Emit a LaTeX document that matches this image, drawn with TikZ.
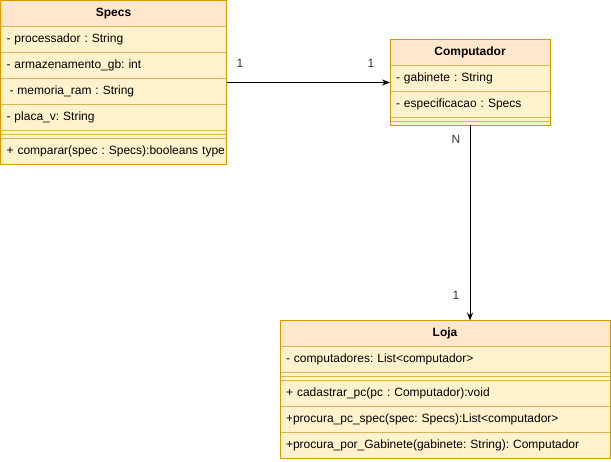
\documentclass[tikz,border=0pt]{standalone}
\usepackage{fontspec}
\setmainfont{Liberation Sans}
\usetikzlibrary{positioning, fit, arrows.meta}
\definecolor{headfill}{HTML}{FFE6CC}
\definecolor{headline}{HTML}{D79B00}
\definecolor{rowfill}{HTML}{FFF2CC}
\definecolor{rowline}{HTML}{D6B656}
\definecolor{labelgray}{HTML}{333333}
\tikzset{
  head/.style={draw=headline, fill=headfill, line width=0.8pt, outer sep=0pt, minimum width=#1, minimum height=26pt,
    inner sep=0pt, font=\fontsize{12}{14}\selectfont\bfseries},
  row/.style={draw=rowline, fill=rowfill, line width=0.8pt, outer sep=0pt, text width=#1-12pt, inner xsep=6pt, inner ysep=0pt,
    minimum height=26pt, align=left, font=\fontsize{12}{14}\selectfont\frenchspacing,
    execute at begin node={\hbox to 0pt\bgroup}, execute at end node={\hss\egroup}},
  sep/.style={draw=rowline, fill=rowfill, line width=0.8pt, outer sep=0pt, minimum width=#1, minimum height=8pt, inner sep=0pt},
  frame/.style={draw=headline, line width=0.8pt, outer sep=0pt, inner sep=0pt},
  mult/.style={text=labelgray, font=\fontsize{12}{14}\selectfont, inner sep=0pt},
  assoc/.style={line width=0.9pt, -{Stealth[length=8pt, width=6pt]}},
}
\begin{document}
\begin{tikzpicture}[x=1pt, y=-1pt]
\useasboundingbox (0,0) rectangle (611,462);

\def\wS{226pt} % width of Specs
\def\wC{160pt} % width of Computador
\def\wL{330pt} % width of Loja

% Specs
\node[head=\wS, anchor=north west] (specsHead) at (0.5,0.5) {Specs};
\node[row=\wS, below=0pt of specsHead] (specsA) {- processador : String};
\node[row=\wS, below=0pt of specsA] (specsB) {- armazenamento\_gb: int};
\node[row=\wS, below=0pt of specsB] (specsC) {\hspace{3pt}- memoria\_ram : String};
\node[row=\wS, below=0pt of specsC] (specsD) {- placa\_v: String};
\node[sep=\wS, below=0pt of specsD] (specsSep) {};
\draw[rowline, line width=0.8pt] (specsSep.west) -- (specsSep.east);
\node[row=\wS, below=0pt of specsSep] (specsM) {+ comparar(spec : Specs):booleans type};
\node[frame, fit=(specsHead)(specsM)] (specs) {};

% Computador
\node[head=\wC, anchor=north west] (compHead) at (390,39.5) {Computador};
\node[row=\wC, below=0pt of compHead] (compA) {- gabinete : String};
\node[row=\wC, below=0pt of compA] (compB) {- especificacao : Specs};
\node[sep=\wC, below=0pt of compB] (compSep) {};
\draw[rowline, line width=0.8pt] (compSep.west) -- (compSep.east);
\node[frame, fit=(compHead)(compSep)] (comp) {};

% Loja
\node[head=\wL, anchor=north west] (lojaHead) at (280,320.5) {Loja};
\node[row=\wL, below=0pt of lojaHead] (lojaA) {- computadores: List<computador>};
\node[sep=\wL, below=0pt of lojaA] (lojaSep) {};
\draw[rowline, line width=0.8pt] (lojaSep.west) -- (lojaSep.east);
\node[row=\wL, below=0pt of lojaSep] (lojaM1) {+ cadastrar\_pc(pc : Computador):void};
\node[row=\wL, below=0pt of lojaM1] (lojaM2) {+procura\_pc\_spec(spec: Specs):List<computador>};
\node[row=\wL, below=0pt of lojaM2] (lojaM3) {+procura\_por\_Gabinete(gabinete: String): Computador};
\node[frame, fit=(lojaHead)(lojaM3)] (loja) {};

% associations
\draw[assoc] (specs.east) -- (comp.west);
\draw[assoc] (comp.south) -- (comp.south |- loja.north);

\node[mult] (m1) at (240,63) {1};
\node[mult] (m2) at (371,63) {1};
\node[mult] (m3) at (456,139) {N};
\node[mult] (m4) at (456,295) {1};
\end{tikzpicture}
\end{document}
